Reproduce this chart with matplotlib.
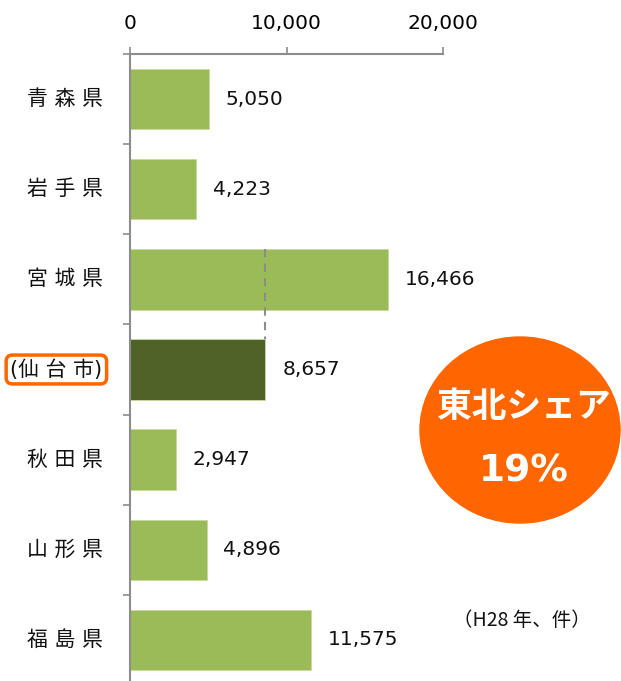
import matplotlib
matplotlib.use("Agg")
import matplotlib.pyplot as plt
from matplotlib.patches import Ellipse

plt.rcParams['font.family'] = ['DejaVu Sans', 'Noto Sans CJK JP']

# data (H28, 件)
prefs = ["青 森 県", "岩 手 県", "宮 城 県", "(仙 台 市)", "秋 田 県", "山 形 県", "福 島 県"]
counts = [5050, 4223, 16466, 8657, 2947, 4896, 11575]
xticks = [0, 10000, 20000]

green = "#9BBB59"
dark = "#4F6228"
orange = "#FF6600"
grey = "#8C8C8C"

fig = plt.figure(figsize=(6.21, 6.81), dpi=100)
ax = fig.add_axes([130 / 621, -4 / 681, 313 / 621, 631 / 681])

pos = list(range(len(prefs)))
colors = [dark if "仙" in p else green for p in prefs]
ax.barh(pos, counts, height=0.67, color=colors, edgecolor="#C7D9A0", linewidth=0.6)

# dashed line linking 宮城県 to 仙台市
ax.plot([counts[3], counts[3]], [2 - 0.335, 3 - 0.335], color=grey, lw=1.5,
        dashes=(4, 3), zorder=3)

for p, v in zip(pos, counts):
    ax.annotate(f"{v:,}", (v, p), xytext=(12, 0), textcoords="offset points",
                va="center", ha="left", fontsize=14.5, color="#111111")

ax.set_xlim(0, 20000)
ax.set_ylim(len(prefs) - 0.5, -0.5)
ax.xaxis.tick_top()
ax.set_xticks(xticks)
ax.set_xticklabels([f"{t:,}" for t in xticks], fontsize=14.5)
ax.tick_params(axis="x", direction="out", length=5, color=grey, width=1.2, pad=10)

ax.set_yticks([])
ax.set_yticks([i - 0.5 for i in range(len(prefs) + 1)], minor=True)
ax.tick_params(axis="y", which="minor", direction="out", length=5, color=grey, width=1.2)

for s in ["right", "bottom"]:
    ax.spines[s].set_visible(False)
for s in ["top", "left"]:
    ax.spines[s].set_color(grey)
    ax.spines[s].set_linewidth(1.5)

trans = ax.get_yaxis_transform()
for p, name in zip(pos, prefs):
    kw = {}
    if "仙" in name:
        kw["bbox"] = dict(boxstyle="round,pad=0.2,rounding_size=0.3",
                          facecolor="white", edgecolor=orange, linewidth=2.5)
    ax.text(-0.088, p, name, transform=trans, ha="right", va="center",
            fontsize=15, color="#111111", **kw)

# share badge
fig.add_artist(Ellipse((520 / 621, 1 - 430 / 681), 200 / 621, 186 / 681,
                       color=orange, zorder=5))
fig.text(524 / 621, 1 - 406 / 681, "東北シェア", color="white", fontsize=25,
         fontweight="bold", ha="center", va="center", zorder=6,
         family=['Noto Sans CJK JP'])
fig.text(524 / 621, 1 - 471 / 681, "19%", color="white", fontsize=27,
         fontweight="bold", ha="center", va="center", zorder=6)

fig.text(522 / 621, 1 - 621 / 681, "（H28 年、件）", fontsize=14, ha="center",
         va="center", color="#111111", family=['Noto Sans CJK JP'])

fig.savefig("out.png", dpi=100)
